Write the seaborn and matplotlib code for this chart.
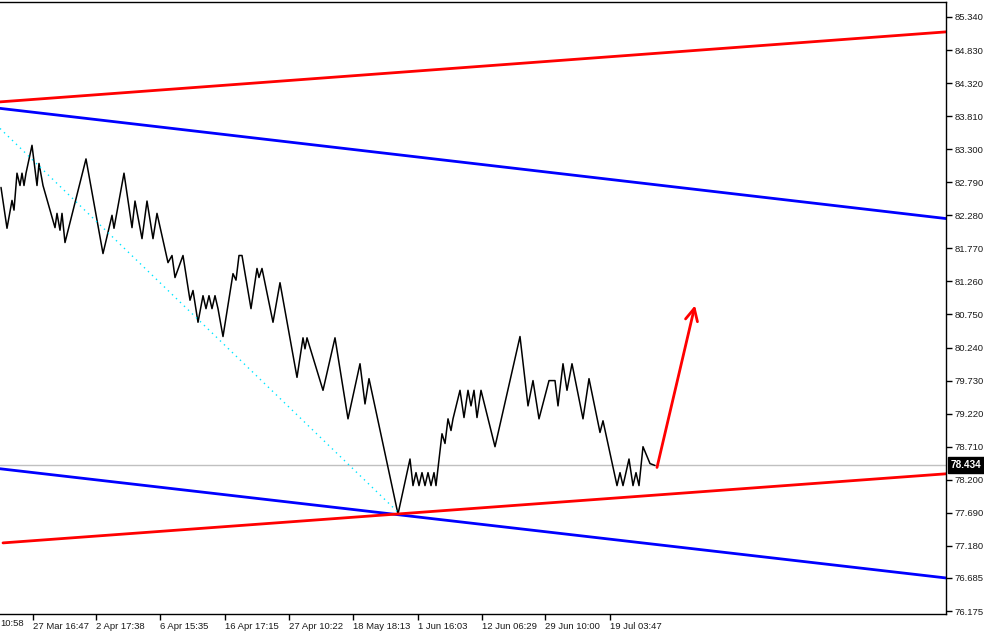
import matplotlib
matplotlib.use("Agg")
import matplotlib.pyplot as plt
import seaborn as sns
import pandas as pd

# ---------------- data ----------------
price_x = [1, 7, 12, 14, 17, 20, 22, 24, 26, 32, 37, 39, 43, 55, 57, 60, 62, 65, 86, 103,
           112, 114, 124, 132, 135, 142, 147, 153, 157, 168, 172, 175, 183, 190, 193, 198,
           203, 206, 209, 212, 215, 218, 223, 233, 236, 239, 242, 251, 257, 259, 262, 273,
           280, 297, 303, 305, 307, 323, 335, 348, 360, 365, 369, 398, 410, 413, 416, 419,
           422, 425, 428, 431, 434, 436, 442, 445, 448, 451, 453, 460, 464, 468, 471, 474,
           477, 481, 495, 520, 528, 533, 539, 549, 555, 558, 563, 567, 572, 583, 589, 600,
           603, 617, 620, 623, 629, 633, 636, 639, 643, 650, 655]
price_y = [82.71, 82.08, 82.51, 82.36, 82.93, 82.74, 82.93, 82.74, 82.93, 83.36, 82.74, 83.08,
           82.74, 82.09, 82.31, 82.05, 82.31, 81.86, 83.15, 81.69, 82.28, 82.08, 82.93, 82.09,
           82.50, 81.92, 82.50, 81.92, 82.31, 81.55, 81.66, 81.32, 81.66, 80.97, 81.12, 80.63,
           81.04, 80.84, 81.04, 80.84, 81.04, 80.84, 80.41, 81.38, 81.28, 81.66, 81.66, 80.84,
           81.46, 81.32, 81.46, 80.63, 81.24, 79.78, 80.39, 80.22, 80.39, 79.58, 80.39, 79.14,
           79.99, 79.37, 79.76, 77.67, 78.52, 78.11, 78.31, 78.11, 78.31, 78.11, 78.31, 78.11,
           78.31, 78.11, 78.91, 78.76, 79.14, 78.96, 79.14, 79.58, 79.16, 79.58, 79.34, 79.58,
           79.16, 79.58, 78.71, 80.41, 79.34, 79.73, 79.14, 79.73, 79.73, 79.34, 79.99, 79.58,
           79.99, 79.14, 79.76, 78.93, 79.11, 78.11, 78.31, 78.11, 78.52, 78.11, 78.31, 78.11,
           78.71, 78.45, 78.42]

line_x = [0, 946]
upper_red_y = [84.03, 85.11]
upper_blue_y = [83.93, 82.23]
lower_blue_y = [78.37, 76.685]
lower_red_x = [3, 946]
lower_red_y = [77.226, 78.292]
cyan_x = [0, 400]
cyan_y = [83.62, 77.67]

arrow_x = [657, 695]
arrow_y = [78.39, 80.89]

last_price = 78.434

y_ticks = [85.340, 84.830, 84.320, 83.810, 83.300, 82.790, 82.280, 81.770, 81.260, 80.750,
           80.240, 79.730, 79.220, 78.710, 78.200, 77.690, 77.180, 76.685, 76.175]
y_labels = ["85.340", "84.830", "84.320", "83.810", "83.300", "82.790", "82.280", "81.770",
            "81.260", "80.750", "80.240", "79.730", "79.220", "78.710", "78.200", "77.690",
            "77.180", "76.685", "76.175"]
x_ticks = [33, 96, 160, 225, 289, 353, 418, 482, 545, 610]
x_labels = ["27 Mar 16:47", "2 Apr 17:38", "6 Apr 15:35", "16 Apr 17:15", "27 Apr 10:22",
            "18 May 18:13", "1 Jun 16:03", "12 Jun 06:29", "29 Jun 10:00", "19 Jul 03:47"]
first_label = "10:58"

# ---------------- style ----------------
sns.set_style("white")
plt.rcParams["font.family"] = ["Liberation Sans", "DejaVu Sans"]
FS = 6.8

W, H = 984, 632
fig = plt.figure(figsize=(W / 100, H / 100), dpi=100)
ax = fig.add_axes([0, 1 - 614 / H, 946 / W, (614 - 2) / H])

price_df = pd.DataFrame({"x": price_x, "y": price_y})
sns.lineplot(data=price_df, x="x", y="y", ax=ax, color="black", lw=1.1,
             sort=False, estimator=None)

sns.lineplot(x=line_x, y=upper_red_y, ax=ax, color="#ff0000", lw=2, estimator=None)
sns.lineplot(x=line_x, y=upper_blue_y, ax=ax, color="#0000ff", lw=2, estimator=None)
sns.lineplot(x=line_x, y=lower_blue_y, ax=ax, color="#0000ff", lw=2, estimator=None)
sns.lineplot(x=lower_red_x, y=lower_red_y, ax=ax, color="#ff0000", lw=2, estimator=None)
ax.plot(cyan_x, cyan_y, color="#00e5ff", lw=1, linestyle=(0, (1, 3)))

ax.axhline(last_price, color="#c0c0c0", lw=1, zorder=0)

ax.annotate("", xy=(arrow_x[1], arrow_y[1]), xytext=(arrow_x[0], arrow_y[0]),
            arrowprops=dict(arrowstyle="->", color="#ff0000", lw=2,
                            mutation_scale=22, shrinkA=0, shrinkB=0))

ax.set_xlim(0, 946)
ax.set_ylim(76.129, 85.571)

ax.yaxis.tick_right()
ax.set_yticks(y_ticks)
ax.set_yticklabels(y_labels)
ax.set_xticks(x_ticks)
ax.set_xticklabels(x_labels)
ax.tick_params(axis="both", direction="out", length=4, width=1, color="black",
               labelsize=FS, labelcolor="#1a1a1a", pad=2)
ax.tick_params(axis="y", right=True, left=False)
ax.tick_params(axis="x", bottom=True)
for lab in ax.get_xticklabels():
    lab.set_horizontalalignment("left")
ax.set_xlabel("")
ax.set_ylabel("")

for side in ["top", "right", "bottom"]:
    ax.spines[side].set_visible(True)
    ax.spines[side].set_color("black")
    ax.spines[side].set_linewidth(1)
ax.spines["left"].set_visible(False)

fig.text(0, 1 - 624 / H, first_label, fontsize=FS, color="#1a1a1a", ha="left", va="center")

# current price label box
ax.text(1.005, last_price, "78.434", transform=ax.get_yaxis_transform(), ha="left",
        va="center", fontsize=FS + 0.4, color="white", fontweight="bold",
        bbox=dict(boxstyle="square,pad=0.3", fc="black", ec="black"), clip_on=False)

fig.savefig("out.png", dpi=100)
